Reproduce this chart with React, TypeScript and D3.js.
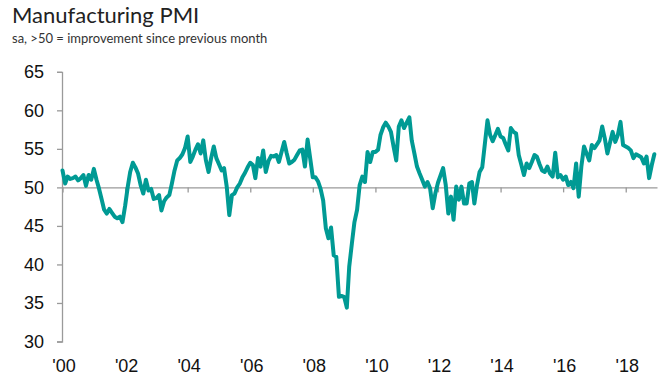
import React, { useEffect, useRef } from 'react';
import * as d3 from 'd3';

// monthly PMI readings, Jan..Dec of each year
const pmi2000 = [52.2, 50.5, 51.4, 51.1, 51.2, 51.4, 50.9, 51.2, 51.6, 50.2, 51.6, 51.0];
const pmi2001 = [52.4, 51.0, 49.9, 48.5, 47.1, 46.6, 47.2, 46.7, 46.2, 46.0, 46.2, 45.5];
const pmi2002 = [47.6, 50.1, 52.0, 53.2, 52.6, 51.8, 50.3, 49.2, 51.0, 49.6, 49.8, 48.5];
const pmi2003 = [48.6, 49.0, 47.0, 48.2, 48.7, 49.0, 50.5, 52.2, 53.5, 53.8, 54.3, 55.1];
const pmi2004 = [56.6, 53.3, 54.0, 54.9, 55.6, 54.4, 56.1, 53.5, 52.0, 53.8, 55.3, 53.8];
const pmi2005 = [53.0, 52.2, 52.5, 50.1, 46.4, 49.0, 49.2, 50.0, 50.5, 51.3, 51.9, 52.6];
const pmi2006 = [53.2, 52.9, 51.2, 53.8, 52.7, 54.8, 52.0, 53.4, 54.1, 54.0, 54.2, 53.3];
const pmi2007 = [54.6, 55.9, 54.5, 53.1, 53.3, 53.6, 54.2, 54.8, 54.9, 52.7, 56.2, 53.8];
const pmi2008 = [51.3, 51.3, 50.8, 49.8, 48.3, 44.7, 43.4, 44.8, 41.2, 41.0, 35.8, 35.9];
const pmi2009 = [35.8, 34.4, 39.7, 42.7, 45.5, 47.1, 50.3, 51.4, 50.7, 54.6, 53.3, 54.6];
const pmi2010 = [54.6, 54.9, 56.8, 57.8, 58.4, 57.9, 57.2, 55.3, 53.5, 57.9, 58.7, 57.7];
const pmi2011 = [58.4, 59.1, 56.1, 54.4, 52.7, 51.8, 51.0, 50.1, 50.7, 49.9, 47.3, 49.2];
const pmi2012 = [50.6, 51.6, 52.5, 50.3, 46.6, 48.8, 45.8, 50.1, 48.4, 50.1, 47.9, 47.9];
const pmi2013 = [50.5, 50.7, 47.9, 50.3, 52.0, 52.6, 55.6, 58.7, 56.8, 56.0, 56.8, 57.6];
const pmi2014 = [56.6, 56.4, 55.6, 54.8, 57.7, 57.2, 57.0, 54.2, 52.9, 51.6, 53.1, 52.5];
const pmi2015 = [53.3, 54.2, 54.0, 53.0, 52.2, 52.0, 52.7, 51.8, 51.4, 54.5, 51.3, 51.6];
const pmi2016 = [51.0, 51.4, 50.3, 50.7, 49.9, 53.1, 48.8, 52.7, 55.3, 54.4, 53.5, 55.5];
const pmi2017 = [55.1, 55.6, 56.1, 57.9, 56.4, 54.4, 55.8, 57.2, 55.9, 56.8, 58.5, 55.5];
const pmi2018 = [55.3, 55.1, 54.8, 53.8, 54.3, 54.1, 53.9, 53.1, 54.0, 51.2, 52.9, 54.3];

const years = [2000, 2001, 2002, 2003, 2004, 2005, 2006, 2007, 2008, 2009,
    2010, 2011, 2012, 2013, 2014, 2015, 2016, 2017, 2018];
const yearly = [pmi2000, pmi2001, pmi2002, pmi2003, pmi2004, pmi2005, pmi2006,
    pmi2007, pmi2008, pmi2009, pmi2010, pmi2011, pmi2012, pmi2013, pmi2014,
    pmi2015, pmi2016, pmi2017, pmi2018];

const xTickYears = [2000, 2002, 2004, 2006, 2008, 2010, 2012, 2014, 2016, 2018];
const xTickLabels = ["'00", "'02", "'04", "'06", "'08", "'10", "'12", "'14", "'16", "'18"];
const yTicks = [30, 35, 40, 45, 50, 55, 60, 65];

const title = 'Manufacturing PMI';
const subtitle = 'sa, >50 = improvement since previous month';

const W = 666;
const H = 389;

const App = () => {
    const svgRef = useRef(null);

    useEffect(() => {
        const svg = d3.select(svgRef.current);
        svg.selectAll('*').remove();

        const series = [];
        years.forEach((yr, i) => {
            yearly[i].forEach((v, m) => series.push({ date: new Date(yr, m, 1), value: v }));
        });

        const x = d3.scaleTime()
            .domain([new Date(2000, 0, 1), new Date(2019, 0, 1)])
            .range([62.5, 657]);
        const y = d3.scaleLinear().domain([30, 65]).range([341.5, 71.8]);

        const axisColor = '#9a9a9a';

        // titles
        svg.append('text')
            .attr('x', 12).attr('y', 23)
            .attr('font-family', 'Lato, sans-serif')
            .attr('font-size', 22)
            .attr('fill', '#222')
            .text(title);
        svg.append('text')
            .attr('x', 12).attr('y', 43)
            .attr('font-family', 'Lato, sans-serif')
            .attr('font-size', 13)
            .attr('fill', '#333')
            .text(subtitle);

        // y axis
        const yAxis = svg.append('g')
            .attr('transform', `translate(${x.range()[0] - 0.5},0)`)
            .call(d3.axisLeft(y).tickValues(yTicks).tickSize(5).tickPadding(13));
        yAxis.selectAll('path, line').attr('stroke', axisColor).attr('stroke-width', 1.3);
        yAxis.selectAll('text')
            .attr('font-family', '"Liberation Sans", Arial, sans-serif')
            .attr('font-size', 18)
            .attr('fill', '#111');

        // 50 line with year ticks
        const xAxis = svg.append('g')
            .attr('transform', `translate(0,${y(50)})`)
            .call(d3.axisBottom(x)
                .tickValues(xTickYears.map(yr => new Date(yr, 0, 1)))
                .tickSize(5).tickSizeOuter(0).tickFormat(() => ''));
        xAxis.selectAll('path, line').attr('stroke', axisColor).attr('stroke-width', 1.3);

        // year labels at the bottom
        svg.append('g')
            .selectAll('text')
            .data(xTickYears)
            .enter()
            .append('text')
            .attr('x', d => x(new Date(d, 0, 1)) + 1.5)
            .attr('y', 371.5)
            .attr('text-anchor', 'middle')
            .attr('font-family', '"Liberation Sans", Arial, sans-serif')
            .attr('font-size', 18)
            .attr('fill', '#111')
            .text((d, i) => xTickLabels[i]);

        // the PMI line
        const line = d3.line()
            .x(d => x(d.date))
            .y(d => y(d.value));
        svg.append('path')
            .datum(series)
            .attr('d', line)
            .attr('fill', 'none')
            .attr('stroke', '#009a94')
            .attr('stroke-width', 4)
            .attr('stroke-linejoin', 'round')
            .attr('stroke-linecap', 'round');
    }, []);

    return (
        <svg
            ref={svgRef}
            width={W}
            height={H}
            style={{ position: 'absolute', left: 0, top: 0, background: '#fff' }}
        />
    );
};

export default App;
